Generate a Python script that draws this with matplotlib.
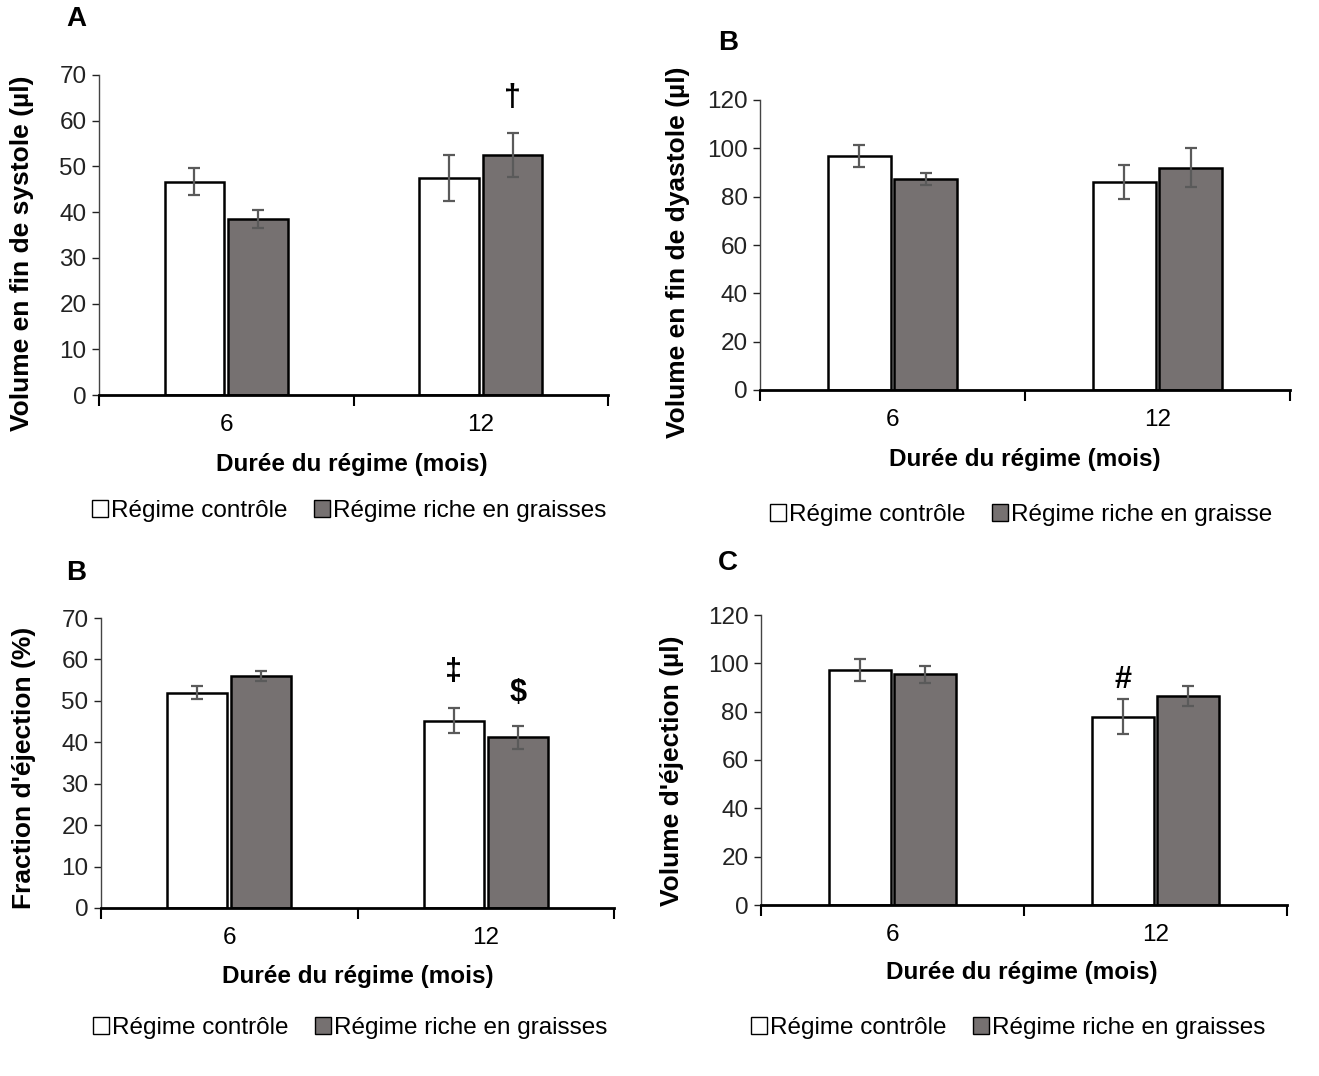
import matplotlib
matplotlib.use("Agg")
import matplotlib.pyplot as plt
from matplotlib.patches import Patch
import numpy as np

plt.rcParams['font.family'] = ['Liberation Sans', 'DejaVu Sans']

W, H = 1319, 1076

groups = ['6', '12']
series = ['Régime contrôle', 'Régime riche en graisses']

# panel A: volume en fin de systole
esv_ctrl = [46.7, 47.5]
esv_ctrl_err = [3.0, 5.0]
esv_hfd = [38.5, 52.5]
esv_hfd_err = [2.0, 4.8]

# panel B (haut): volume en fin de diastole
edv_ctrl = [96.8, 86.0]
edv_ctrl_err = [4.5, 7.0]
edv_hfd = [87.2, 92.0]
edv_hfd_err = [2.5, 8.0]

# panel B (bas): fraction d'éjection
ef_ctrl = [52.0, 45.2]
ef_ctrl_err = [1.6, 3.0]
ef_hfd = [56.0, 41.2]
ef_hfd_err = [1.2, 2.8]

# panel C: volume d'éjection
sv_ctrl = [97.2, 78.0]
sv_ctrl_err = [4.5, 7.2]
sv_hfd = [95.5, 86.5]
sv_hfd_err = [3.6, 4.3]

ctrl_color = 'white'
hfd_color = '#767171'
err_color = '#5a5a5a'


def px_axes(fig, left, top, right, bottom):
    return fig.add_axes([left / W, 1 - bottom / H, (right - left) / W, (bottom - top) / H])


def draw_panel(fig, box, letter, letter_xy, ylabel, ylabel_xy, xlabel_xy, ymax, ystep,
               ctrl, ctrl_err, hfd, hfd_err, marks, legend_xy, legend_labels):
    ax = px_axes(fig, *box)
    x = np.arange(len(groups))
    w = 0.235
    off = 0.125
    ek = dict(ecolor=err_color, elinewidth=1.6, capsize=4, capthick=1.6)
    ax.bar(x - off, ctrl, w, yerr=ctrl_err, color=ctrl_color, edgecolor='black',
           linewidth=1.8, error_kw=ek, zorder=2)
    ax.bar(x + off, hfd, w, yerr=hfd_err, color=hfd_color, edgecolor='black',
           linewidth=1.8, error_kw=ek, zorder=2)

    for gi, si, sym, yv in marks:
        xx = gi - off if si == 0 else gi + off
        ax.text(xx, yv, sym, ha='center', va='center', fontsize=22,
                fontweight='bold', color='black')

    ax.set_xlim(-0.5, len(groups) - 0.5)
    ax.set_ylim(0, ymax)
    ax.set_yticks(np.arange(0, ymax + 1, ystep))
    ax.tick_params(axis='y', direction='out', length=5, width=1, labelsize=17.5,
                   pad=4, colors='#222222')
    ax.set_xticks([-0.5, 0.5, 1.5])
    ax.set_xticklabels([])
    ax.set_xticks(x, minor=True)
    ax.set_xticklabels(groups, minor=True)
    ax.tick_params(axis='x', which='major', direction='out', length=8, width=1.5)
    ax.tick_params(axis='x', which='minor', length=0, pad=14, labelsize=17.5)
    for s in ['top', 'right']:
        ax.spines[s].set_visible(False)
    ax.spines['left'].set_linewidth(1)
    ax.spines['left'].set_color('#444444')
    ax.spines['bottom'].set_linewidth(2)
    ax.spines['bottom'].set_zorder(3)

    fig.text(xlabel_xy[0] / W, 1 - xlabel_xy[1] / H, 'Durée du régime (mois)',
             fontsize=17.5, fontweight='bold', ha='center', va='center')
    fig.text(ylabel_xy[0] / W, 1 - ylabel_xy[1] / H, ylabel, rotation=90,
             fontsize=19, fontweight='bold', ha='center', va='center')

    fig.text(letter_xy[0] / W, 1 - letter_xy[1] / H, letter, fontsize=20,
             fontweight='bold', ha='center', va='center')

    handles = [Patch(facecolor=ctrl_color, edgecolor='black', linewidth=1),
               Patch(facecolor=hfd_color, edgecolor='black', linewidth=1)]
    fig.legend(handles, legend_labels, loc='center',
               bbox_to_anchor=(legend_xy[0] / W, 1 - legend_xy[1] / H),
               ncol=2, frameon=False, fontsize=17.5, handlelength=0.65,
               handleheight=0.65, handletextpad=0.12, columnspacing=1.1)
    return ax


fig = plt.figure(figsize=(W / 100, H / 100), dpi=100)

draw_panel(fig, (99, 75, 608, 395), 'A', (76, 19),
           'Volume en fin de systole (µl)', (22, 253), (352, 465), 70, 10,
           esv_ctrl, esv_ctrl_err, esv_hfd, esv_hfd_err,
           [(1, 1, '†', 65.0)], (349, 511), series)

draw_panel(fig, (760, 100, 1290, 390), 'B', (728, 43),
           'Volume en fin de dyastole (µl)', (678, 252), (1025, 460), 120, 20,
           edv_ctrl, edv_ctrl_err, edv_hfd, edv_hfd_err,
           [], (1021, 515), ['Régime contrôle', 'Régime riche en graisse'])

draw_panel(fig, (101, 618, 614, 908), 'B', (76, 573),
           "Fraction d'éjection (%)", (24, 768), (358, 977), 70, 10,
           ef_ctrl, ef_ctrl_err, ef_hfd, ef_hfd_err,
           [(1, 0, '‡', 57.0), (1, 1, '$', 52.0)], (350, 1028), series)

draw_panel(fig, (761, 615, 1287, 905), 'C', (728, 563),
           "Volume d'éjection (µl)", (672, 771), (1022, 973), 120, 20,
           sv_ctrl, sv_ctrl_err, sv_hfd, sv_hfd_err,
           [(1, 0, '#', 93.0)], (1008, 1028), series)

fig.savefig('out.png', dpi=100, facecolor='white')
